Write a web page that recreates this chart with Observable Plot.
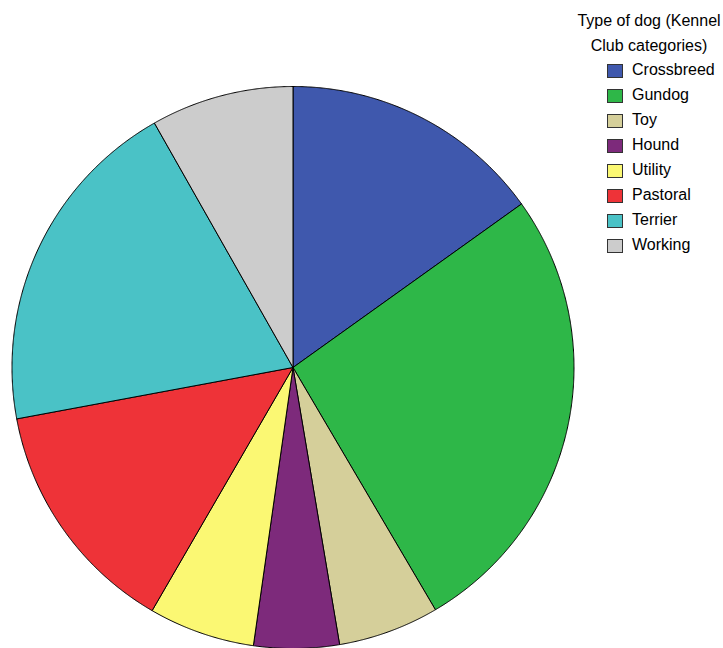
<!DOCTYPE html>
<html>
<head>
<meta charset="utf-8">
<script src="https://cdn.jsdelivr.net/npm/d3@7"></script>
<script src="https://cdn.jsdelivr.net/npm/@observablehq/plot@0.6"></script>
<style>
  body { margin: 0; background: #fff; font-family: "Liberation Sans", Arial, sans-serif; }
  #wrap { position: relative; width: 723px; height: 648px; overflow: hidden; }
  #chart { position: absolute; left: 0; top: 0; }
  #legend { position: absolute; left: 570px; top: 9px; width: 158px; font-size: 16px; color: #000; }
  #legend .title { text-align: center; line-height: 24.5px; width: 158px; }
  #legend .item { position: absolute; left: 37px; height: 20px; white-space: nowrap; }
  #legend .sw { position: absolute; left: 0; top: 0; width: 14px; height: 12px; border: 1px solid #333; }
  #legend .lab { position: absolute; left: 25px; top: -3px; line-height: 18px; }
</style>
</head>
<body>
<div id="wrap">
  <div id="chart"></div>
  <div id="legend"></div>
</div>
<script>
const categories = ["Crossbreed", "Gundog", "Toy", "Hound", "Utility", "Pastoral", "Terrier", "Working"];
const shares = [15.1, 26.4, 5.8, 4.9, 6.1, 13.7, 19.7, 8.2];
const colors = ["#3f58ad", "#2eb748", "#d5cf9a", "#7d2a7b", "#fbf873", "#ee3338", "#4ac2c6", "#cccccc"];
const legendTitle = ["Type of dog (Kennel", "Club categories)"];

const arcs = d3.pie().sort(null).value(d => d)(shares);
const pts = [];
arcs.forEach((a, i) => {
  const cat = categories[i];
  pts.push({cat, x: 0, y: 0});
  const n = Math.max(2, Math.ceil((a.endAngle - a.startAngle) / 0.004));
  for (let k = 0; k <= n; k++) {
    const t = a.startAngle + (a.endAngle - a.startAngle) * k / n;
    pts.push({cat, x: Math.sin(t), y: Math.cos(t)});
  }
  pts.push({cat, x: 0, y: 0});
});

const chart = Plot.plot({
  width: 723,
  height: 648,
  marginLeft: 11.5,
  marginRight: 149.5,
  marginTop: 86,
  marginBottom: 0,
  x: {domain: [-1, 1], axis: null},
  y: {domain: [-1, 1], axis: null},
  color: {domain: categories, range: colors},
  marks: [
    Plot.line(pts, {x: "x", y: "y", z: "cat", fill: "cat", stroke: "#000", strokeWidth: 1, strokeLinejoin: "round", curve: "linear"})
  ]
});
document.getElementById("chart").appendChild(chart);

const lg = document.getElementById("legend");
legendTitle.forEach(t => {
  const d = document.createElement("div");
  d.className = "title";
  d.textContent = t;
  lg.appendChild(d);
});
categories.forEach((c, i) => {
  const it = document.createElement("div");
  it.className = "item";
  it.style.top = (55 + i * 25) + "px";
  const sw = document.createElement("div");
  sw.className = "sw";
  sw.style.background = colors[i];
  const lab = document.createElement("div");
  lab.className = "lab";
  lab.textContent = c;
  it.appendChild(sw);
  it.appendChild(lab);
  lg.appendChild(it);
});
</script>
</body>
</html>
